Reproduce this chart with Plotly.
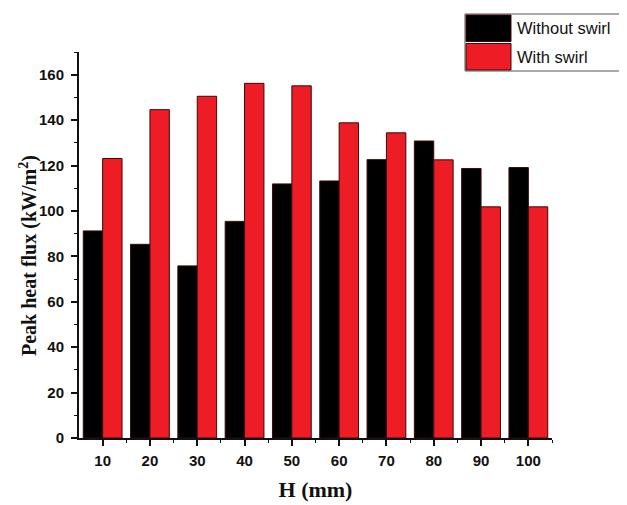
import plotly.graph_objects as go

H = [10, 20, 30, 40, 50, 60, 70, 80, 90, 100]
without_swirl = [91.2, 85.3, 75.8, 95.4, 111.9, 113.2, 122.6, 130.8, 118.7, 119.1]
with_swirl = [123.1, 144.6, 150.5, 156.2, 155.1, 138.8, 134.4, 122.5, 101.8, 101.8]
series_names = ["Without swirl", "With swirl"]
series_colors = ["#000000", "#ee1c24"]

W, Hgt = 627, 505
OFF = 8  # page body margin in the browser
# target plot area in screenshot pixels: x 79..552, y 52..438
ml, mt = 79 - OFF, 52 - OFF
mr = W - (552 - OFF)
mb = Hgt - (438 - OFF)
pw, ph = W - ml - mr, Hgt - mt - mb

def px(x):
    return (x - OFF - ml) / pw

def py(y):
    return 1 - (y - OFF - mt) / ph

fig = go.Figure()
for name, vals, col in zip(series_names, [without_swirl, with_swirl], series_colors):
    fig.add_trace(go.Bar(
        x=H, y=vals, name=name, marker=dict(color=col, line=dict(color="#3a0a0a", width=1)),
        showlegend=False,
    ))

tickfont = dict(family="Liberation Sans, Arial", size=15, color="#111", weight="bold")
fig.update_layout(
    width=W, height=Hgt,
    margin=dict(l=ml, r=mr, t=mt, b=mb, autoexpand=False),
    paper_bgcolor="white", plot_bgcolor="white",
    barmode="group", bargap=0.18, bargroupgap=0,
    xaxis=dict(
        range=[5, 105], tickvals=H, ticks="outside", ticklen=6, tickwidth=1.5, tickcolor="#111",
        showline=True, linecolor="#111", linewidth=2, showgrid=False, zeroline=False,
        tickfont=tickfont, automargin=False, ticklabelstandoff=2,
        minor=dict(tickvals=[15, 25, 35, 45, 55, 65, 75, 85, 95, 105], ticks="outside", ticklen=3, tickwidth=1.2, tickcolor="#111"),
        title=dict(text="<b>H (mm)</b>", font=dict(family="Liberation Serif, Times New Roman", size=22, color="#111"), standoff=14),
    ),
    yaxis=dict(
        range=[0, 170], dtick=20, tick0=0, ticks="outside", ticklen=6, tickwidth=1.5, tickcolor="#111",
        showline=True, linecolor="#111", linewidth=2, showgrid=False, zeroline=False,
        tickfont=tickfont, automargin=False, ticklabelstandoff=4,
        minor=dict(dtick=10, tick0=0, ticks="outside", ticklen=3, tickwidth=1.2, tickcolor="#111"),
    ),
)

# Y-axis title as a rotated annotation
fig.add_annotation(xref="paper", yref="paper", x=px(28), y=py(256), textangle=-90,
                   text="<b>Peak heat flux (kW/m<sup>2</sup>)</b>", showarrow=False,
                   xanchor="center", yanchor="middle",
                   font=dict(family="Liberation Serif, Times New Roman", size=20, color="#111"))

# Legend box (drawn manually), positions in screenshot pixels
lx0, lx1, ly0, ly1 = 465, 640, 14, 71
rows = [(14, 42.5), (42.5, 71)]
fig.add_shape(type="rect", xref="paper", yref="paper", x0=px(lx0), x1=px(lx1), y0=py(ly1), y1=py(ly0),
              line=dict(color="#555", width=1), fillcolor="white")
for (r0, r1), name, col in zip(rows, series_names, series_colors):
    fig.add_shape(type="rect", xref="paper", yref="paper", x0=px(466), x1=px(511), y0=py(r1 - 1), y1=py(r0 + 1),
                  line=dict(color="#3a0a0a", width=1), fillcolor=col)
    fig.add_annotation(xref="paper", yref="paper", x=px(515), y=py((r0 + r1) / 2), text=name,
                       showarrow=False, xanchor="left", yanchor="middle",
                       font=dict(family="Liberation Sans, Arial", size=16.5, color="#111"))

fig.write_html("out.html")
